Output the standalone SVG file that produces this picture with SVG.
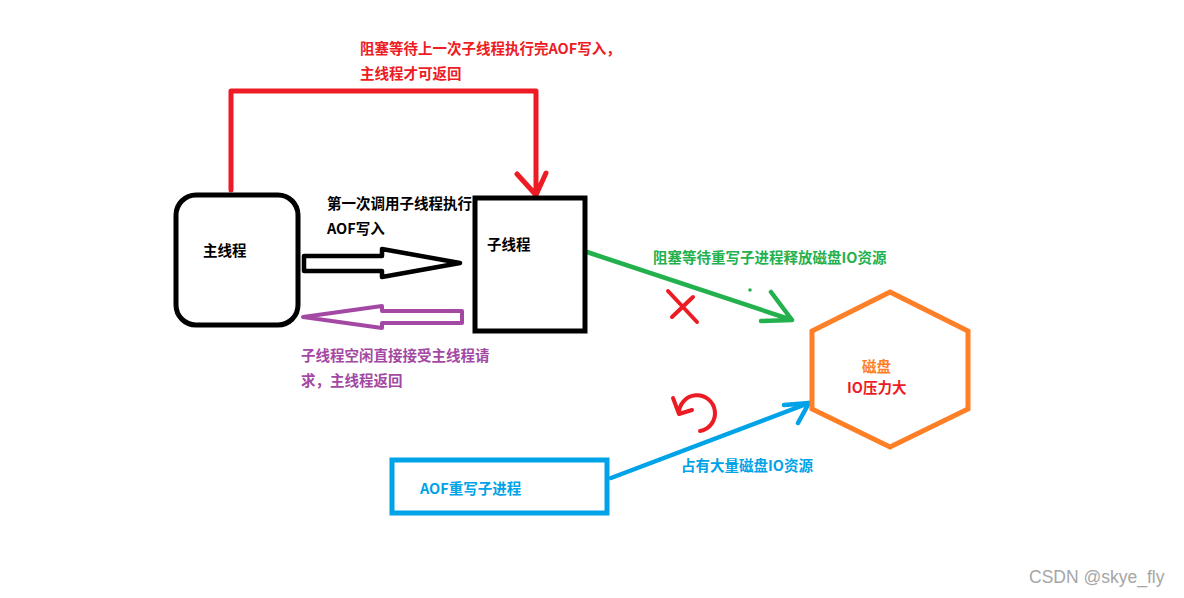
<svg xmlns="http://www.w3.org/2000/svg" width="1184" height="598" viewBox="0 0 1184 598">
<style>
text{font-family:"Microsoft YaHei","Noto Sans CJK SC",sans-serif;font-weight:bold;font-size:14.5px}
.k{fill:#000}.r{fill:#ed1c24}.p{fill:#a349a4}.g{fill:#22b14c}.b{fill:#00a2e8}.o{fill:#ff7f27}
.ln{fill:none;stroke-linecap:round;stroke-linejoin:round}
</style>
<rect width="1184" height="598" fill="#fff"/>
<g id="labels">
<text class="r" x="360" y="54">阻塞等待上一次子线程执行完AOF写入，</text>
<text class="r" x="360" y="79">主线程才可返回</text>
<text class="k" x="327" y="209">第一次调用子线程执行</text>
<text class="k" x="327" y="234">AOF写入</text>
<text class="p" x="301" y="361">子线程空闲直接接受主线程请</text>
<text class="p" x="301" y="386">求，主线程返回</text>
<text class="g" x="653" y="263">阻塞等待重写子进程释放磁盘IO资源</text>
<text class="b" x="681" y="471">占有大量磁盘IO资源</text>
</g>
<g id="connectors">
<path class="ln" d="M231,190 V91 H536 V195 M517,174 L536,195 L546,173" stroke="#ed1c24" stroke-width="5"/>
<path class="ln" d="M304,256 H382 V249 L460,263 L382,277 V271 H304 Z" stroke="#000" stroke-width="4.5"/>
<path class="ln" d="M462,311 H382 V306 L303,317 L382,328 V323 H462 Z" stroke="#a349a4" stroke-width="4"/>
<path class="ln" d="M587,252 L792,320 M771,292 L792,320 L761,321" stroke="#22b14c" stroke-width="4.5"/>
<circle cx="750" cy="290" r="1.8" fill="#22b14c"/>
<path class="ln" d="M668,291 L697,322 M693,297 L672,317" stroke="#ed1c24" stroke-width="4"/>
<path class="ln" d="M700,431 A18,18 0 1 0 679,414 M673,398 L679,414 L692,410" stroke="#ed1c24" stroke-width="4"/>
<path class="ln" d="M611,478 L809,403 M784,405 L809,403 L798,423" stroke="#00a2e8" stroke-width="4.5"/>
</g>
<g id="main-thread">
<rect x="176" y="195" width="122" height="130" rx="20" fill="#fff" stroke="#000" stroke-width="5"/>
<text class="k" x="203" y="256">主线程</text>
</g>
<g id="child-thread">
<rect x="475" y="198" width="110" height="133" fill="#fff" stroke="#000" stroke-width="5"/>
<text class="k" x="487" y="250">子线程</text>
</g>
<g id="disk">
<polygon points="890,292 968,331 968,409 890,447 812,409 812,331" fill="#fff" stroke="#ff7f27" stroke-width="5"/>
<text class="o" x="862" y="372">磁盘</text>
<text class="r" x="847" y="393">IO压力大</text>
</g>
<g id="aof-rewrite">
<rect x="392" y="460" width="215" height="53" fill="#fff" stroke="#00a2e8" stroke-width="5"/>
<text class="b" x="420" y="494">AOF重写子进程</text>
</g>
<text x="1029" y="583" style="font-family:'Liberation Sans',sans-serif;font-weight:normal;font-size:17.5px;fill:#a6a6a6">CSDN @skye_fly</text>
</svg>
